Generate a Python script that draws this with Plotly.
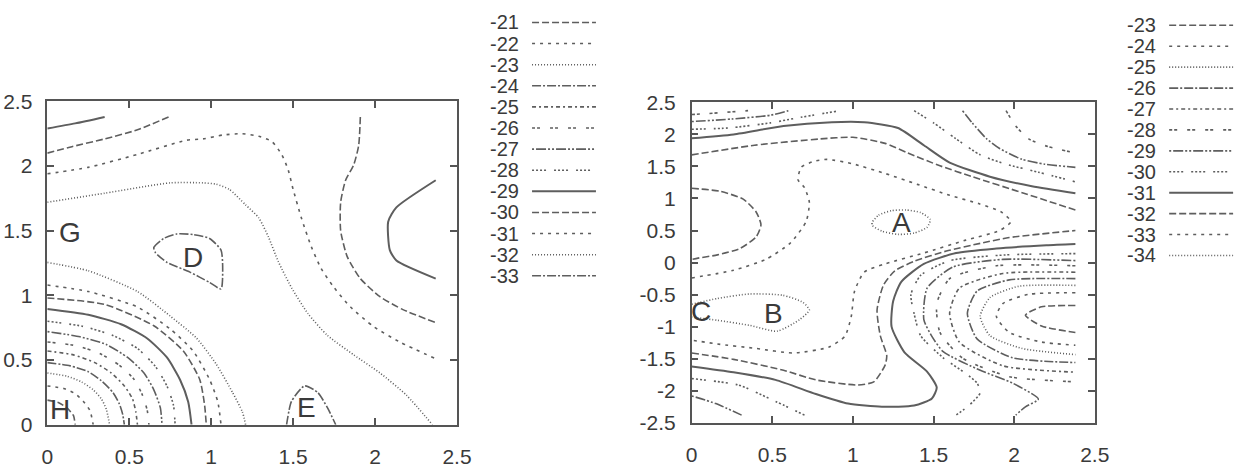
import plotly.graph_objects as go

# ---------------- data: contour polylines ----------------
left_levels = [-21, -22, -23, -24, -25, -26, -27, -28, -29, -30, -31, -32, -33]
right_levels = [-23, -24, -25, -26, -27, -28, -29, -30, -31, -32, -33, -34]

# left panel contours
L29_tl_x = [0, 0.17, 0.35]
L29_tl_y = [2.29, 2.33, 2.38]
L30_tl_x = [0, 0.15, 0.35, 0.55, 0.74]
L30_tl_y = [2.10, 2.15, 2.21, 2.28, 2.38]
L31_up_x = [0, 0.25, 0.55, 0.85, 0.95, 1.07, 1.19, 1.29, 1.37, 1.43, 1.47, 1.50, 1.55, 1.61, 1.67, 1.75, 1.85, 1.99, 2.15, 2.37]
L31_up_y = [1.94, 1.99, 2.09, 2.20, 2.21, 2.24, 2.25, 2.23, 2.19, 2.09, 1.97, 1.82, 1.60, 1.38, 1.21, 1.06, 0.91, 0.76, 0.64, 0.51]
L32_up_x = [0, 0.35, 0.75, 0.95, 1.03, 1.11, 1.21, 1.29, 1.35, 1.41, 1.49, 1.59, 1.71, 1.87, 2.03, 2.19, 2.35]
L32_up_y = [1.72, 1.79, 1.87, 1.87, 1.86, 1.82, 1.70, 1.60, 1.45, 1.26, 1.06, 0.86, 0.69, 0.54, 0.40, 0.23, 0.0]
L30_r_x = [1.91, 1.90, 1.87, 1.82, 1.79, 1.79, 1.83, 1.91, 2.03, 2.17, 2.37]
L30_r_y = [2.38, 2.16, 2.01, 1.89, 1.72, 1.50, 1.30, 1.13, 0.99, 0.89, 0.79]
L29_r_x = [2.37, 2.13, 2.08, 2.09, 2.13, 2.37]
L29_r_y = [1.89, 1.68, 1.57, 1.35, 1.27, 1.13]
L33_D_x = [0.66, 0.65, 0.71, 0.79, 0.89, 0.99, 1.06, 1.07, 1.06, 0.99, 0.87, 0.73, 0.66]
L33_D_y = [1.33, 1.37, 1.44, 1.475, 1.47, 1.44, 1.35, 1.23, 1.05, 1.10, 1.18, 1.255, 1.33]
L33_E_x = [1.46, 1.49, 1.57, 1.65, 1.71, 1.76]
L33_E_y = [0.0, 0.18, 0.30, 0.25, 0.13, 0.0]
L32_lo_x = [0, 0.25, 0.55, 0.75, 0.91, 1.03, 1.13, 1.19, 1.21]
L32_lo_y = [1.255, 1.19, 1.03, 0.84, 0.67, 0.47, 0.25, 0.10, 0.0]
L31_lo_x = [0, 0.25, 0.55, 0.75, 0.89, 0.99, 1.04, 1.06]
L31_lo_y = [1.08, 1.03, 0.91, 0.74, 0.57, 0.35, 0.18, 0.0]
L30_lo_x = [0, 0.35, 0.65, 0.83, 0.93, 0.96, 0.97]
L30_lo_y = [0.98, 0.93, 0.765, 0.57, 0.35, 0.15, 0.0]
L29_lo_x = [0, 0.25, 0.45, 0.61, 0.73, 0.81, 0.86, 0.88]
L29_lo_y = [0.895, 0.85, 0.777, 0.667, 0.52, 0.348, 0.176, 0.0]
L28_x = [0, 0.22, 0.40, 0.55, 0.66, 0.73, 0.77, 0.78]
L28_y = [0.80, 0.76, 0.69, 0.59, 0.45, 0.30, 0.15, 0.0]
L27_x = [0, 0.20, 0.36, 0.49, 0.59, 0.65, 0.69, 0.70]
L27_y = [0.72, 0.68, 0.62, 0.52, 0.40, 0.27, 0.13, 0.0]
L26_x = [0, 0.18, 0.32, 0.44, 0.53, 0.58, 0.61, 0.62]
L26_y = [0.64, 0.61, 0.55, 0.46, 0.35, 0.23, 0.11, 0.0]
L25_x = [0, 0.16, 0.29, 0.39, 0.47, 0.52, 0.54, 0.55]
L25_y = [0.57, 0.54, 0.48, 0.40, 0.30, 0.20, 0.10, 0.0]
L24_x = [0, 0.14, 0.25, 0.33, 0.40, 0.44, 0.46, 0.47]
L24_y = [0.48, 0.455, 0.41, 0.34, 0.25, 0.16, 0.08, 0.0]
L23_x = [0, 0.12, 0.21, 0.28, 0.33, 0.36, 0.38]
L23_y = [0.40, 0.375, 0.33, 0.27, 0.20, 0.12, 0.0]
L22_x = [0, 0.10, 0.17, 0.22, 0.26, 0.28]
L22_y = [0.30, 0.28, 0.24, 0.18, 0.11, 0.0]
L21_x = [0, 0.07, 0.12, 0.16, 0.17]
L21_y = [0.19, 0.17, 0.13, 0.07, 0.0]

# right panel contours
R28_tl_x = [0, 0.07, 0.35]
R28_tl_y = [2.31, 2.32, 2.37]
R29_tl_x = [0, 0.25, 0.49, 0.60]
R29_tl_y = [2.20, 2.24, 2.30, 2.37]
R30_tl_x = [0, 0.23, 0.49, 0.64, 0.92]
R30_tl_y = [2.08, 2.10, 2.18, 2.25, 2.37]
R31_top_x = [0, 0.26, 0.57, 0.87, 1.07, 1.28, 1.44, 1.60, 1.85, 2.11, 2.38]
R31_top_y = [1.94, 2.00, 2.13, 2.19, 2.19, 2.10, 1.83, 1.56, 1.34, 1.19, 1.08]
R32_top_x = [0, 0.39, 0.80, 1.00, 1.20, 1.34, 1.54, 1.74, 2.05, 2.38]
R32_top_y = [1.68, 1.83, 1.93, 1.955, 1.86, 1.71, 1.51, 1.34, 1.09, 0.82]
R30_tr_x = [1.38, 1.50, 1.64, 1.79, 1.95, 2.15, 2.38]
R30_tr_y = [2.37, 2.18, 1.93, 1.68, 1.535, 1.41, 1.26]
R29_tr_x = [1.68, 1.74, 1.83, 1.91, 2.05, 2.19, 2.38]
R29_tr_y = [2.37, 2.18, 1.93, 1.78, 1.61, 1.535, 1.486]
R28_tr_x = [1.95, 2.01, 2.09, 2.21, 2.38]
R28_tr_y = [2.37, 2.13, 1.93, 1.81, 1.71]
R32_loop_x = [0, 0.18, 0.32, 0.40, 0.43, 0.40, 0.30, 0.16, 0.04, 0]
R32_loop_y = [1.16, 1.11, 0.99, 0.79, 0.59, 0.40, 0.22, 0.12, 0.07, 0.05]
R33_x = [0, 0.26, 0.46, 0.61, 0.71, 0.73, 0.70, 0.66, 0.68, 0.76, 0.84, 1.00, 1.20, 1.40, 1.60, 1.78, 1.92, 1.98, 1.91, 1.70, 1.44, 1.20, 1.07, 1.01, 0.99, 0.95, 0.85, 0.63, 0.40, 0.16, 0]
R33_y = [-0.24, -0.12, 0.05, 0.30, 0.64, 0.94, 1.17, 1.29, 1.49, 1.58, 1.61, 1.54, 1.39, 1.22, 1.05, 0.92, 0.79, 0.64, 0.50, 0.35, 0.15, -0.02, -0.15, -0.45, -0.84, -1.15, -1.32, -1.41, -1.34, -1.27, -1.21]
R34_A_x = [1.12, 1.16, 1.24, 1.33, 1.42, 1.48, 1.46, 1.38, 1.28, 1.18, 1.12, 1.12]
R34_A_y = [0.63, 0.74, 0.81, 0.82, 0.78, 0.67, 0.55, 0.46, 0.44, 0.49, 0.58, 0.63]
R34_B_x = [0, 0.16, 0.36, 0.565, 0.69, 0.73, 0.67, 0.53, 0.36, 0.16, 0]
R34_B_y = [-0.65, -0.56, -0.49, -0.51, -0.62, -0.74, -0.89, -1.07, -0.98, -0.90, -0.85]
R31_lo_x = [0, 0.26, 0.52, 0.77, 0.97, 1.18, 1.38, 1.49, 1.52, 1.46, 1.32, 1.24, 1.25, 1.30, 1.44, 1.64, 1.89, 2.20, 2.38]
R31_lo_y = [-1.62, -1.71, -1.83, -2.05, -2.20, -2.25, -2.23, -2.12, -1.95, -1.70, -1.40, -1.00, -0.60, -0.30, -0.02, 0.15, 0.22, 0.27, 0.29]
R32_lo_x = [0, 0.26, 0.57, 0.77, 1.03, 1.13, 1.20, 1.21, 1.17, 1.15, 1.19, 1.26, 1.38, 1.58, 1.79, 1.97, 2.38]
R32_lo_y = [-1.41, -1.51, -1.68, -1.83, -1.91, -1.86, -1.60, -1.45, -1.14, -0.74, -0.35, -0.13, 0.02, 0.18, 0.30, 0.39, 0.50]
R30_bl_x = [0, 0.29, 0.49, 0.70]
R30_bl_y = [-1.81, -1.91, -2.13, -2.38]
R29_bl_x = [0, 0.15, 0.31]
R29_bl_y = [-2.08, -2.20, -2.38]
R30_br_x = [2.38, 1.95, 1.60, 1.42, 1.36, 1.38, 1.42, 1.56, 1.70, 1.77, 1.79, 1.72, 1.64]
R30_br_y = [0.14, 0.12, 0.03, -0.20, -0.50, -0.80, -1.14, -1.485, -1.73, -1.88, -2.03, -2.23, -2.38]
R29_br_x = [2.38, 1.93, 1.62, 1.46, 1.44, 1.49, 1.56, 1.79, 1.99, 2.15, 2.07, 2.01]
R29_br_y = [0.03, 0.05, -0.07, -0.40, -0.89, -1.15, -1.39, -1.68, -1.88, -2.13, -2.25, -2.38]
R28_x = [2.38, 1.89, 1.60, 1.52, 1.54, 1.68, 1.97, 2.38]
R28_y = [-0.05, -0.05, -0.25, -0.64, -1.09, -1.49, -1.78, -1.86]
R27_x = [2.38, 1.93, 1.66, 1.60, 1.66, 1.93, 2.38]
R27_y = [-0.15, -0.17, -0.40, -0.79, -1.24, -1.61, -1.71]
R26_x = [2.38, 1.97, 1.77, 1.71, 1.77, 1.99, 2.38]
R26_y = [-0.25, -0.27, -0.445, -0.79, -1.19, -1.485, -1.56]
R25_x = [2.38, 2.03, 1.85, 1.79, 1.85, 2.05, 2.38]
R25_y = [-0.356, -0.37, -0.545, -0.84, -1.14, -1.34, -1.436]
R24_x = [2.38, 2.09, 1.93, 1.89, 1.97, 2.17, 2.38]
R24_y = [-0.47, -0.495, -0.64, -0.84, -1.09, -1.24, -1.29]
R23_x = [2.38, 2.17, 2.07, 2.17, 2.38]
R23_y = [-0.67, -0.69, -0.82, -0.99, -1.09]

left_lines = [
    (-29, L29_tl_x, L29_tl_y), (-30, L30_tl_x, L30_tl_y), (-31, L31_up_x, L31_up_y),
    (-32, L32_up_x, L32_up_y), (-30, L30_r_x, L30_r_y), (-29, L29_r_x, L29_r_y),
    (-33, L33_D_x, L33_D_y), (-33, L33_E_x, L33_E_y), (-32, L32_lo_x, L32_lo_y),
    (-31, L31_lo_x, L31_lo_y), (-30, L30_lo_x, L30_lo_y), (-29, L29_lo_x, L29_lo_y),
    (-28, L28_x, L28_y), (-27, L27_x, L27_y), (-26, L26_x, L26_y), (-25, L25_x, L25_y),
    (-24, L24_x, L24_y), (-23, L23_x, L23_y), (-22, L22_x, L22_y), (-21, L21_x, L21_y),
]
right_lines = [
    (-28, R28_tl_x, R28_tl_y), (-29, R29_tl_x, R29_tl_y), (-30, R30_tl_x, R30_tl_y),
    (-31, R31_top_x, R31_top_y), (-32, R32_top_x, R32_top_y), (-30, R30_tr_x, R30_tr_y),
    (-29, R29_tr_x, R29_tr_y), (-28, R28_tr_x, R28_tr_y), (-32, R32_loop_x, R32_loop_y),
    (-33, R33_x, R33_y), (-34, R34_A_x, R34_A_y), (-34, R34_B_x, R34_B_y),
    (-31, R31_lo_x, R31_lo_y), (-32, R32_lo_x, R32_lo_y), (-30, R30_bl_x, R30_bl_y),
    (-29, R29_bl_x, R29_bl_y), (-30, R30_br_x, R30_br_y), (-29, R29_br_x, R29_br_y),
    (-28, R28_x, R28_y), (-27, R27_x, R27_y), (-26, R26_x, R26_y), (-25, R25_x, R25_y),
    (-24, R24_x, R24_y), (-23, R23_x, R23_y),
]

left_labels = ["G", "D", "H", "E"]
left_label_x = [0.14, 0.89, 0.08, 1.58]
left_label_y = [1.49, 1.29, 0.12, 0.13]
right_labels = ["A", "B", "C"]
right_label_x = [1.30, 0.51, 0.06]
right_label_y = [0.62, -0.80, -0.77]

# ---------------- styles ----------------
DASHES = [
    "7px,3px",
    "3px,5px",
    "1px,2px",
    "9px,2px,2px,2px",
    "4px,3px,2px,3px",
    "3px,2px,3px,10px",
    "2px,2px,10px,2px,2px,2px",
    "2px,2px,2px,2px,2px,2px,2px,8px",
]
LINE_COLOR = "#5e5e5e"
TEXT_COLOR = "#3a3a3a"
FONT = "Liberation Sans, Arial, sans-serif"


def style_for(levels, solid_level, level):
    if level == solid_level:
        return "solid"
    i = levels.index(level)
    s = levels.index(solid_level)
    if i < s:
        return DASHES[i % len(DASHES)]
    return DASHES[(i - s - 1) % len(DASHES)]


fig = go.Figure()

for lev, xs, ys in left_lines:
    d = style_for(left_levels, -29, lev)
    fig.add_trace(go.Scatter(x=xs, y=ys, mode="lines", xaxis="x", yaxis="y",
                             line=dict(color=LINE_COLOR, width=2 if d == "solid" else 1.6,
                                       dash=d, shape="spline", smoothing=0.6),
                             showlegend=False, hoverinfo="skip"))
for lev, xs, ys in right_lines:
    d = style_for(right_levels, -31, lev)
    fig.add_trace(go.Scatter(x=xs, y=ys, mode="lines", xaxis="x2", yaxis="y2",
                             line=dict(color=LINE_COLOR, width=2 if d == "solid" else 1.6,
                                       dash=d, shape="spline", smoothing=0.6),
                             showlegend=False, hoverinfo="skip"))

W, H = 1254, 469

annotations = []
shapes = []
for t, x, y in zip(left_labels, left_label_x, left_label_y):
    annotations.append(dict(text=t, x=x, y=y, xref="x", yref="y", showarrow=False,
                            font=dict(size=28, color=TEXT_COLOR, family=FONT)))
for t, x, y in zip(right_labels, right_label_x, right_label_y):
    annotations.append(dict(text=t, x=x, y=y, xref="x2", yref="y2", showarrow=False,
                            font=dict(size=28, color=TEXT_COLOR, family=FONT)))


def legend(levels, solid_level, text_x, line_x0, line_x1, y0, dy):
    for i, lev in enumerate(levels):
        py = y0 + i * dy
        annotations.append(dict(text=str(lev), x=text_x / W, y=1 - py / H, xref="paper", yref="paper",
                                xanchor="left", yanchor="middle", showarrow=False,
                                font=dict(size=20, color=TEXT_COLOR, family=FONT)))
        d = style_for(levels, solid_level, lev)
        shapes.append(dict(type="line", xref="paper", yref="paper",
                           x0=line_x0 / W, x1=line_x1 / W, y0=1 - py / H, y1=1 - py / H,
                           line=dict(color=LINE_COLOR, width=2 if d == "solid" else 1.6, dash=d)))


legend(left_levels, -29, 490, 535, 600, 11, 22.2)
legend(right_levels, -31, 1138, 1183, 1248, 14, 22.0)

axis_common = dict(showgrid=False, zeroline=False, showline=True, linecolor="#555555", linewidth=1.5,
                   mirror="ticks", ticks="inside", ticklen=7, tickwidth=1.5, tickcolor="#555555",
                   tickfont=dict(size=21, color=TEXT_COLOR, family=FONT))
xt = [0, 0.5, 1, 1.5, 2, 2.5]
xtt = ["0", "0.5", "1", "1.5", "2", "2.5"]
yt2 = [-2.5, -2, -1.5, -1, -0.5, 0, 0.5, 1, 1.5, 2, 2.5]
yt2t = ["-2.5", "-2", "-1.5", "-1", "-0.5", "0", "0.5", "1", "1.5", "2", "2.5"]

fig.update_layout(
    width=W, height=H, margin=dict(l=0, r=0, t=0, b=0), autosize=False,
    paper_bgcolor="white", plot_bgcolor="white",
    xaxis=dict(domain=[42 / W, 458.7 / W], range=[0, 2.5], tickvals=xt, ticktext=xtt,
               anchor="y", ticklabelstandoff=12, **axis_common),
    yaxis=dict(domain=[35 / H, 375 / H], range=[0, 2.5], tickvals=xt, ticktext=xtt,
               anchor="x", ticklabelstandoff=9, **axis_common),
    xaxis2=dict(domain=[697.3 / W, 1107.3 / W], range=[0, 2.5], tickvals=xt, ticktext=xtt,
                anchor="y2", ticklabelstandoff=12, **axis_common),
    yaxis2=dict(domain=[37 / H, 374 / H], range=[-2.5, 2.5], tickvals=yt2, ticktext=yt2t,
                anchor="x2", ticklabelstandoff=10, **axis_common),
    annotations=annotations, shapes=shapes,
)

fig.write_html("out.html")
